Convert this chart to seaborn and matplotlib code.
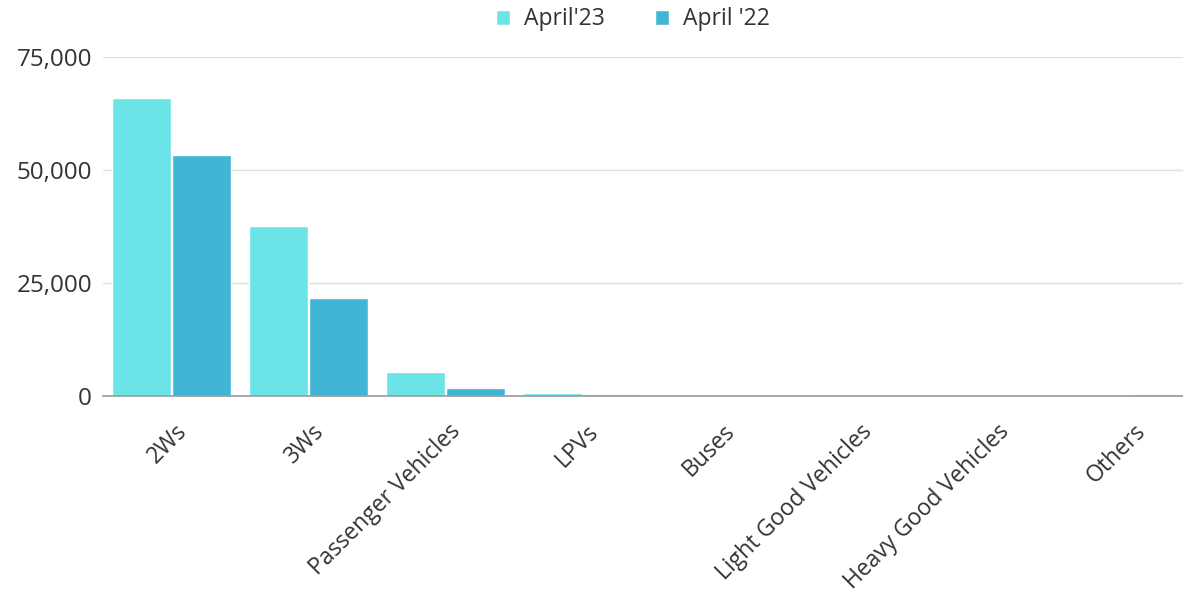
import matplotlib
matplotlib.use("Agg")
import matplotlib.pyplot as plt
import matplotlib.transforms as mtransforms
from matplotlib.ticker import FuncFormatter
import seaborn as sns
import pandas as pd

categories = ["2Ws", "3Ws", "Passenger Vehicles", "LPVs", "Buses",
              "Light Good Vehicles", "Heavy Good Vehicles", "Others"]
april_23 = [66000, 37500, 5200, 650, 100, 200, 200, 50]
april_22 = [53300, 21700, 1700, 500, 300, 100, 20, 400]
series_names = ["April'23", "April '22"]
palette = ["#6be4e8", "#41b5d4"]

df = pd.DataFrame({
    "category": categories * 2,
    "value": april_23 + april_22,
    "series": [series_names[0]] * len(categories) + [series_names[1]] * len(categories),
})

sns.set_theme(style="white")
plt.rcParams["font.family"] = ["Open Sans", "DejaVu Sans"]

fig = plt.figure(figsize=(11.83, 5.99), dpi=100)
ax = fig.add_axes([0.0871, 0.339, 0.9265, 0.566])

sns.barplot(data=df, x="category", y="value", hue="series", order=categories,
            hue_order=series_names, palette=palette, width=0.885, gap=0.03,
            saturation=1, ax=ax, legend=True)

ax.set_xlim(-0.5, len(categories) - 0.5)
ax.set_ylim(0, 75000)
ax.set_yticks([0, 25000, 50000, 75000])
ax.yaxis.set_major_formatter(FuncFormatter(lambda v, p: f"{int(v):,}"))
ax.grid(axis="y", color="#e0e0e0", linewidth=1)
ax.set_axisbelow(True)
for s in ["left", "right", "top"]:
    ax.spines[s].set_visible(False)
ax.spines["bottom"].set_color("#9a9a9a")
ax.spines["bottom"].set_linewidth(1.2)
ax.set_xlabel("")
ax.set_ylabel("")
ax.tick_params(axis="y", length=0, labelsize=17.5, pad=8, labelcolor="#333333")
ax.tick_params(axis="x", length=0, labelsize=16.5, pad=23, labelcolor="#333333")

offset = mtransforms.ScaledTranslation(0.12, 0, fig.dpi_scale_trans)
for lbl in ax.get_xticklabels():
    lbl.set_rotation(45)
    lbl.set_ha("right")
    lbl.set_rotation_mode("anchor")
    lbl.set_va("center")
    lbl.set_transform(lbl.get_transform() + offset)

ax.legend(loc="upper center", ncol=2, frameon=False, fontsize=16.5,
          handlelength=0.6, handleheight=0.6, handletextpad=0.6, columnspacing=2.2,
          borderaxespad=0.0)
leg = ax.get_legend()
leg.set_bbox_to_anchor((0.535, 1.003), transform=fig.transFigure)
for t in leg.get_texts():
    t.set_color("#333333")

fig.savefig("out.png", dpi=100)
